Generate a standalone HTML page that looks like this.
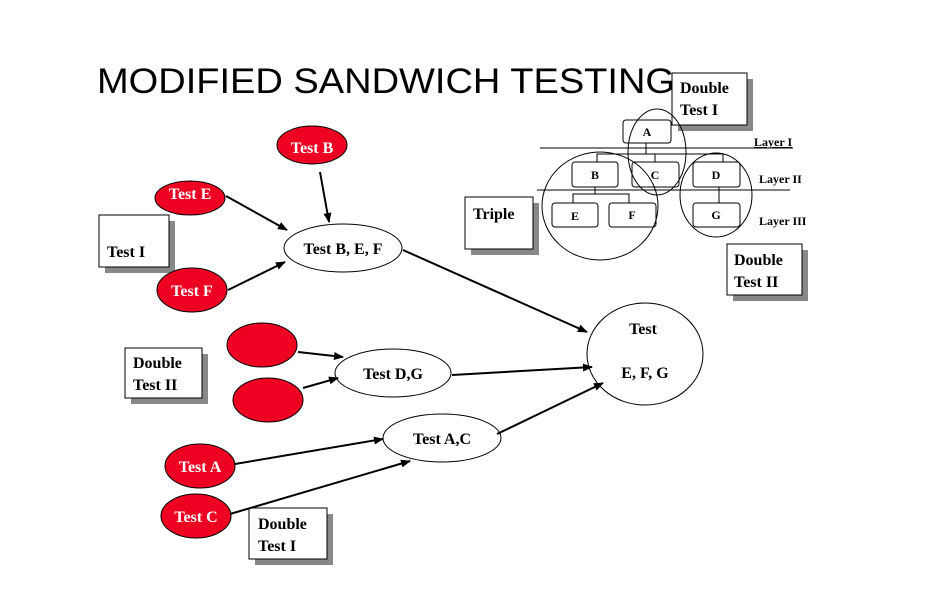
<!DOCTYPE html>
<html><head><meta charset="utf-8"><style>
html,body{margin:0;padding:0;background:#fff;}
svg{display:block;}
.t{font-family:"Liberation Serif",serif;font-weight:bold;font-size:16px;fill:#000;}
.w{font-family:"Liberation Serif",serif;font-weight:bold;font-size:16px;fill:#fff;}
.s{font-family:"Liberation Serif",serif;font-weight:bold;font-size:12px;fill:#000;}
</style></head><body>
<svg width="935" height="612" viewBox="0 0 935 612" xmlns="http://www.w3.org/2000/svg">
<defs>
<marker id="ar" markerWidth="10" markerHeight="8" refX="9" refY="4" orient="auto" markerUnits="userSpaceOnUse">
<path d="M0,0 L10,4 L0,8 z" fill="#000"/></marker>
</defs>
<text x="97" y="93" font-family="Liberation Sans,sans-serif" font-size="35" textLength="578" lengthAdjust="spacingAndGlyphs">MODIFIED SANDWICH TESTING</text>

<!-- boxes with shadows -->
<g fill="#888">
<rect x="678" y="79" width="75" height="52"/>
<rect x="105" y="221" width="70" height="52"/>
<rect x="471" y="203" width="68" height="52"/>
<rect x="733" y="250" width="75" height="51"/>
<rect x="131" y="354" width="77" height="50"/>
<rect x="255" y="514" width="78" height="51"/>
</g>
<g fill="#fff" stroke="#000" stroke-width="1">
<rect x="672" y="73" width="75" height="52"/>
<rect x="99" y="215" width="70" height="52"/>
<rect x="465" y="197" width="68" height="52"/>
<rect x="727" y="244" width="75" height="51"/>
<rect x="125" y="348" width="77" height="50"/>
<rect x="249" y="508" width="78" height="51"/>
</g>
<text class="t" x="680" y="93">Double</text><text class="t" x="680" y="115">Test I</text>
<text class="t" x="107" y="257">Test I</text>
<text class="t" x="473" y="219">Triple</text>
<text class="t" x="734" y="265">Double</text><text class="t" x="734" y="287">Test II</text>
<text class="t" x="133" y="368">Double</text><text class="t" x="133" y="390">Test II</text>
<text class="t" x="258" y="529">Double</text><text class="t" x="258" y="551">Test I</text>

<!-- tree -->
<g stroke="#000" stroke-width="1" fill="none">
<line x1="540" y1="148" x2="793" y2="148"/>
<line x1="537" y1="190" x2="790" y2="190"/>
<polyline points="646,143 646,154"/>
<polyline points="597,162 597,154 723,154 723,162"/>
<line x1="655" y1="154" x2="655" y2="162"/>
<polyline points="595,187 595,194"/>
<polyline points="573,203 573,194 629,194 629,203"/>
<line x1="719" y1="187" x2="719" y2="203"/>
</g>
<g fill="#fff" stroke="#000" stroke-width="1">
<rect x="623" y="120" width="48" height="23" rx="3"/>
<rect x="572" y="162" width="46" height="25" rx="3"/>
<rect x="632" y="162" width="47" height="25" rx="3"/>
<rect x="693" y="162" width="47" height="25" rx="3"/>
<rect x="552" y="203" width="46" height="24" rx="3"/>
<rect x="609" y="203" width="47" height="24" rx="3"/>
<rect x="693" y="203" width="47" height="24" rx="3"/>
</g>
<g class="s" text-anchor="middle">
<text x="647" y="136">A</text><text x="595" y="179">B</text><text x="655" y="179">C</text>
<text x="716" y="179">D</text><text x="575" y="220">E</text><text x="632" y="219">F</text><text x="716" y="219">G</text>
</g>
<text class="s" x="754" y="146" text-decoration="underline">Layer I</text>
<text class="s" x="759" y="183">Layer II</text>
<text class="s" x="759" y="225">Layer III</text>
<g fill="none" stroke="#000" stroke-width="1">
<ellipse cx="600" cy="206" rx="58" ry="54"/>
<ellipse cx="657" cy="152" rx="29" ry="43"/>
<ellipse cx="716" cy="195" rx="36" ry="42"/>
</g>

<!-- red ellipses -->
<g fill="#ee0022" stroke="#000" stroke-width="1">
<ellipse cx="312" cy="145" rx="35" ry="19"/>
<ellipse cx="190" cy="198" rx="35" ry="17"/>
<ellipse cx="192" cy="290" rx="35" ry="22"/>
<ellipse cx="262" cy="345" rx="35" ry="22"/>
<ellipse cx="268" cy="400" rx="35" ry="22"/>
<ellipse cx="200" cy="466" rx="35" ry="22"/>
<ellipse cx="196" cy="516" rx="35" ry="22"/>
</g>
<g class="w" text-anchor="middle">
<text x="312" y="153">Test B</text>
<text x="190" y="198" dy="1">Test E</text>
<text x="192" y="296">Test F</text>
<text x="200" y="472">Test A</text>
<text x="196" y="522">Test C</text>
</g>
<text class="w" x="190" y="199" text-anchor="middle" opacity="0"> </text>

<!-- white ellipses -->
<g fill="#fff" stroke="#000" stroke-width="1">
<ellipse cx="343" cy="248" rx="59" ry="24"/>
<ellipse cx="393" cy="373" rx="58" ry="24"/>
<ellipse cx="442" cy="438" rx="59" ry="24"/>
<ellipse cx="645" cy="354" rx="58" ry="51"/>
</g>
<g class="t" text-anchor="middle">
<text x="343" y="254">Test B, E, F</text>
<text x="393" y="379">Test D,G</text>
<text x="442" y="444">Test A,C</text>
<text x="643" y="334">Test</text>
<text x="645" y="378">E, F, G</text>
</g>

<!-- arrows -->
<g stroke="#000" stroke-width="2" marker-end="url(#ar)">
<line x1="320" y1="172" x2="329" y2="222"/>
<line x1="226" y1="196" x2="287" y2="230"/>
<line x1="228" y1="290" x2="285" y2="262"/>
<line x1="403" y1="250" x2="587" y2="332"/>
<line x1="298" y1="352" x2="343" y2="357"/>
<line x1="303" y1="388" x2="338" y2="378"/>
<line x1="452" y1="375" x2="592" y2="367"/>
<line x1="497" y1="434" x2="603" y2="383"/>
<line x1="235" y1="464" x2="383" y2="439"/>
<line x1="230" y1="514" x2="410" y2="461"/>
</g>
</svg>
</body></html>
